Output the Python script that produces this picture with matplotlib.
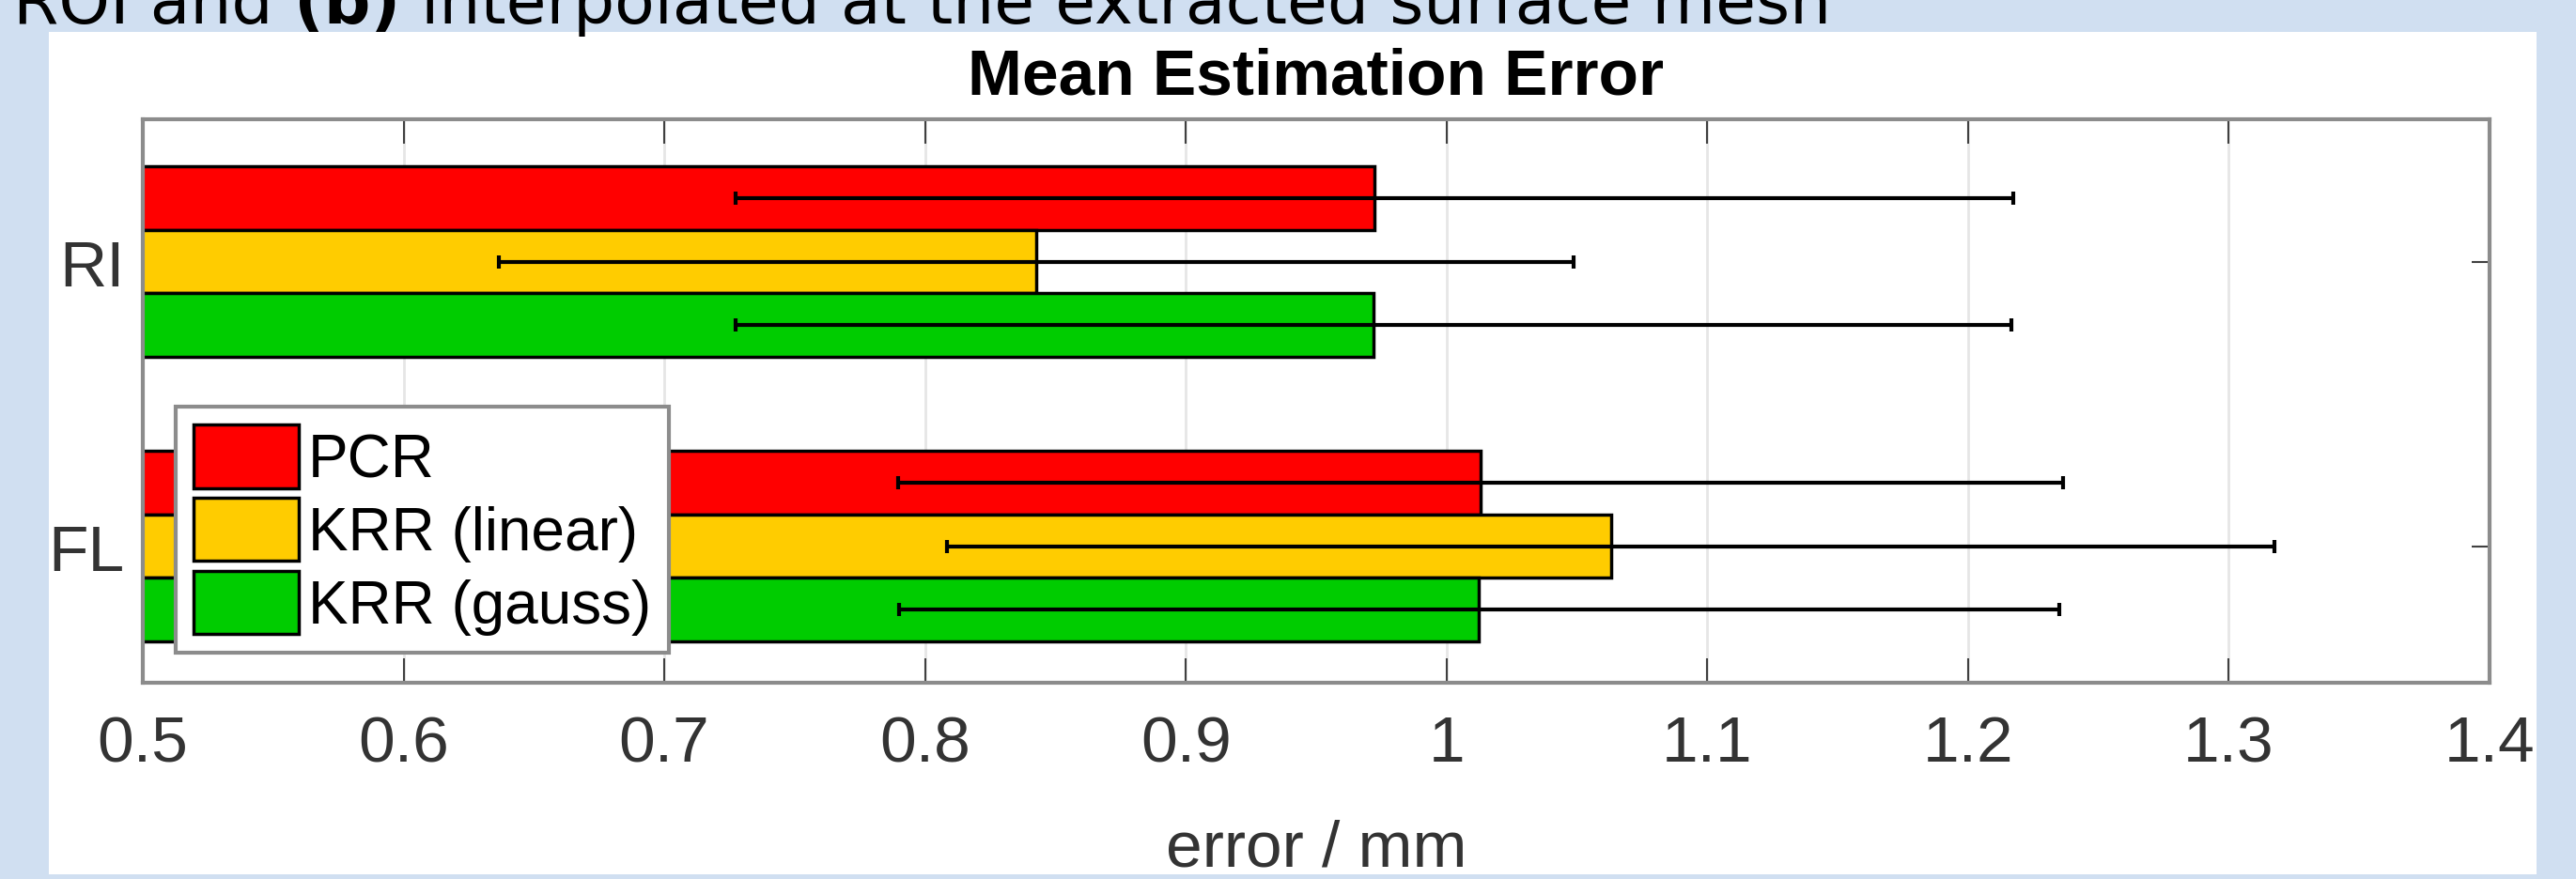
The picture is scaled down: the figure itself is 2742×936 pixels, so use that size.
import numpy as np
import matplotlib

matplotlib.use("Agg")
import matplotlib.pyplot as plt
from matplotlib.patches import Rectangle

# data
categories = ["RI", "FL"]
methods = ["PCR", "KRR (linear)", "KRR (gauss)"]
colors = ["#ff0000", "#ffcc00", "#00cc00"]

# mean error per method, one value per category
mean_pcr = [0.9725, 1.013]
mean_krr_lin = [0.8426, 1.063]
mean_krr_gauss = [0.972, 1.0125]

# half-width of the error bars
std_pcr = [0.245, 0.2235]
std_krr_lin = [0.206, 0.2545]
std_krr_gauss = [0.2445, 0.2225]

xticks = [0.5, 0.6, 0.7, 0.8, 0.9, 1.0, 1.1, 1.2, 1.3, 1.4]
xtick_labels = ["0.5", "0.6", "0.7", "0.8", "0.9", "1", "1.1", "1.2", "1.3", "1.4"]

plt.rcParams["font.family"] = ["Liberation Sans", "DejaVu Sans"]

W, H = 2742, 937
fig = plt.figure(figsize=(W / 100, H / 100), dpi=100)
fig.patch.set_facecolor("#d0dff1")

# white panel behind the matlab figure
fig.patches.append(Rectangle((52 / W, 5 / H), (2700 - 52) / W, (932 - 35) / H,
                             transform=fig.transFigure, facecolor="white",
                             edgecolor="none", zorder=-5))

# caption fragment cut off at the top of the screenshot
r = fig.canvas.get_renderer()
x0 = 14 / W
yb = 1 - 25 / H
parts = [("ROI and ", "normal"), ("(b)", "bold"), (" interpolated at the extracted surface mesh", "normal")]
for s, w in parts:
    t = fig.text(x0, yb, s, fontsize=50, fontweight=w, color="black",
                 family=["DejaVu Sans"], va="baseline", ha="left")
    bb = t.get_window_extent(renderer=r)
    x0 += bb.width / W

ax = fig.add_axes([152 / W, 1 - 728 / H, (2650 - 152) / W, (728 - 128) / H])

means = [mean_pcr, mean_krr_lin, mean_krr_gauss]
stds = [std_pcr, std_krr_lin, std_krr_gauss]
y = np.arange(1, len(categories) + 1)
h = 0.223
offsets = [-h, 0, h]

for i in range(len(methods)):
    ax.barh(y + offsets[i], means[i], height=h, left=0, color=colors[i],
            edgecolor="black", linewidth=2.5, label=methods[i], zorder=2)
    ax.errorbar(means[i], y + offsets[i], xerr=stds[i], fmt="none",
                ecolor="black", elinewidth=3, capsize=5, capthick=3, zorder=3)

ax.set_xlim(0.5, 1.4)
ax.set_ylim(2.48, 0.5)
ax.set_xticks(xticks)
ax.set_xticklabels(xtick_labels)
ax.set_yticks(y)
ax.set_yticklabels(categories)
ax.grid(axis="x", color="#e6e6e6", linewidth=2, zorder=0)
ax.set_axisbelow(True)

ax.tick_params(axis="both", direction="in", length=19, width=1.5, color="#404040",
               labelsize=50, labelcolor="#333333", top=True, right=True, pad=24)
ax.tick_params(axis="y", pad=14, length=14)
for sp in ax.spines.values():
    sp.set_color("#8c8c8c")
    sp.set_linewidth(3)

ax.set_xlabel("error / mm", fontsize=50, color="#333333", labelpad=34)
ax.set_title("Mean Estimation Error", fontsize=50, fontweight="bold", pad=20)

leg = ax.legend(loc="lower left", bbox_to_anchor=(0.014, 0.053), borderaxespad=0,
                fontsize=46, frameon=True, fancybox=False, framealpha=1,
                handlelength=1.75, handleheight=1.25, handletextpad=0.15,
                labelspacing=0.15, borderpad=0.3)
leg.get_frame().set_edgecolor("#8c8c8c")
leg.get_frame().set_linewidth(3)

fig.savefig("out.png", dpi=100, facecolor=fig.get_facecolor())
